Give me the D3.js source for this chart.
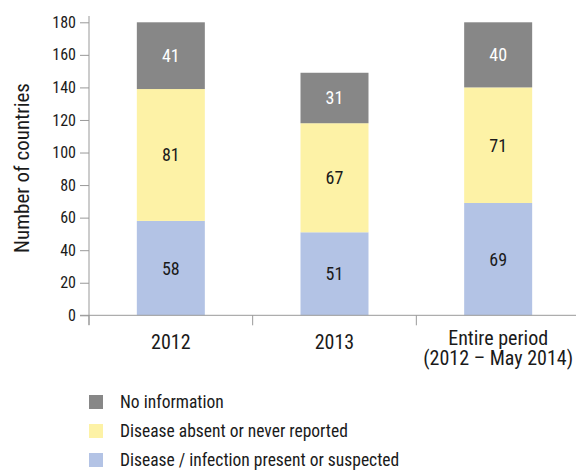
<!DOCTYPE html>
<html><head><meta charset="utf-8">
<script src="https://cdn.jsdelivr.net/npm/d3@7"></script>
<style>
body{margin:0;background:#fff;}
svg text{font-family:"Roboto Condensed","Roboto",sans-serif;}
</style></head><body>
<svg id="c" width="576" height="471"></svg>
<script>
const categories = ["2012", "2013", "Entire period|(2012 – May 2014)"];
const present = [58, 51, 69];
const absent = [81, 67, 71];
const noInfo = [41, 31, 40];
const yTicks = [0, 20, 40, 60, 80, 100, 120, 140, 160, 180];
const seriesNames = ["Disease / infection present or suspected", "Disease absent or never reported", "No information"];
const colors = ["#b3c3e5", "#fdf2a6", "#878787"];
const labelColors = ["#1a1a1a", "#1a1a1a", "#fff"];

const svg = d3.select("#c");
const x0 = 89, x1 = 580, yTop = 22.3, yZero = 315.3;
const x = d3.scaleBand().domain(categories).range([x0, x1]).paddingInner(0).paddingOuter(0);
const y = d3.scaleLinear().domain([0, 180]).range([yZero, yTop]);

const data = categories.map((c, i) => ({cat: c, v: [present[i], absent[i], noInfo[i]]}));
const stack = d3.stack().keys([0, 1, 2]).value((d, k) => d.v[k]);
const layers = stack(data);
const barW = 68;

const g = svg.append("g");
layers.forEach((layer, k) => {
  g.selectAll(null).data(layer).enter().append("rect")
    .attr("x", d => x(d.data.cat) + x.bandwidth() / 2 - barW / 2)
    .attr("width", barW)
    .attr("y", d => y(d[1]))
    .attr("height", d => y(d[0]) - y(d[1]))
    .attr("fill", colors[k]);
  g.selectAll(null).data(layer).enter().append("text")
    .attr("x", d => x(d.data.cat) + x.bandwidth() / 2)
    .attr("y", d => (y(d[0]) + y(d[1])) / 2)
    .attr("dy", "0.36em")
    .attr("text-anchor", "middle")
    .attr("font-size", 18)
    .attr("fill", labelColors[k])
    .text(d => d.data.v[k]);
});

// y axis
const yAxis = d3.axisLeft(y).tickValues(yTicks).tickSize(9).tickPadding(4);
const ya = svg.append("g").attr("transform", `translate(${x0},0)`).call(yAxis);
ya.attr("font-family", null).attr("font-size", null);
ya.select(".domain").attr("d", `M0,16V325`).attr("stroke", "#999");
ya.selectAll("line").attr("stroke", "#999");
ya.selectAll("text").attr("font-size", 16).attr("fill", "#1a1a1a");

// x axis
const xa = svg.append("g").attr("transform", `translate(0,${yZero})`);
xa.append("line").attr("x1", x0 - 9).attr("x2", 576).attr("y1", 0).attr("y2", 0).attr("stroke", "#999");
const bounds = categories.map(c => x(c));
xa.selectAll(null).data(bounds).enter().append("line")
  .attr("x1", d => d).attr("x2", d => d).attr("y1", 0).attr("y2", 10).attr("stroke", "#999");
categories.forEach(c => {
  const lines = c.split("|");
  const cx = x(c) + x.bandwidth() / 2;
  lines.forEach((l, i) => {
    xa.append("text").attr("text-anchor", "middle").attr("font-size", 20).attr("fill", "#1a1a1a")
      .attr("x", cx)
      .attr("y", (lines.length === 1 ? 34 : 29.5 + i * 20)).text(l);
  });
});

// y title
svg.append("text").attr("transform", "translate(29,168) rotate(-90)")
  .attr("text-anchor", "middle").attr("font-size", 21).attr("fill", "#1a1a1a").text("Number of countries");

// legend
const legendOrder = [2, 1, 0];
legendOrder.forEach((k, i) => {
  const cy = 402 + i * 29;
  svg.append("rect").attr("x", 89).attr("y", cy - 7).attr("width", 14).attr("height", 14).attr("fill", colors[k]);
  svg.append("text").attr("x", 120).attr("y", cy).attr("dy", "0.36em").attr("font-size", 17.5).attr("fill", "#1a1a1a").text(seriesNames[k]);
});
</script></body></html>
